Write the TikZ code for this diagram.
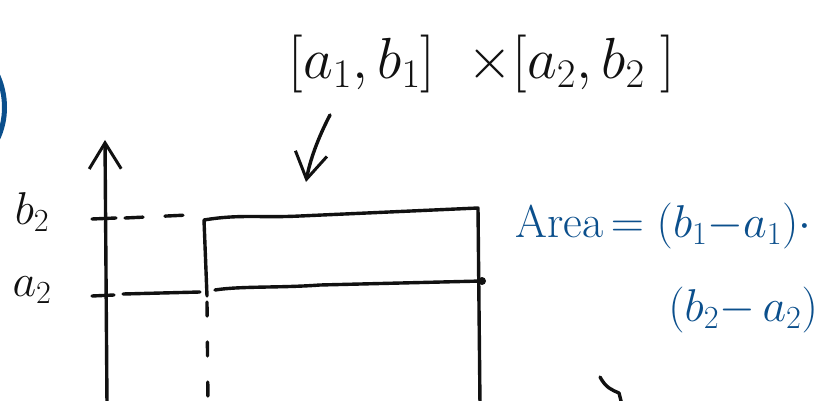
\RequirePackage{fix-cm}
\documentclass[tikz,border=0pt]{standalone}
\usetikzlibrary{positioning,arrows.meta,calc}
\definecolor{ink}{HTML}{111111}
\definecolor{inkblue}{HTML}{0B4F8C}

\begin{document}
\begin{tikzpicture}[
  x=1pt, y=-1pt,
  pen/.style={draw=ink, line width=3.4pt, line cap=round, line join=round},
  bluepen/.style={draw=inkblue, line width=5pt, line cap=round},
  barb/.style={-{Straight Barb[length=26pt, width=32pt, line width=3pt]}},
  lbl/.style={font=\fontsize{46}{50}\selectfont, text=ink, inner sep=0pt},
  note/.style={lbl, text=inkblue},
]
  \useasboundingbox (0,0) rectangle (822,401);

  % ---- axis and its two levels ----------------------------------------------
  \coordinate (axbot) at (107,405);
  \coordinate (axtop) at (105,140);
  \draw[pen, barb] (axbot) -- (axtop);
  \node[lbl] (lb2) at (32,212) {$b_2$};
  \node[lbl] (la2) at (32,290) {$a_2$};
  \draw[pen] (92,219) -- (116,218);
  \draw[pen, dash pattern=on 18pt off 22pt] (125,218) -- (188,215);
  \draw[pen] (92,296) -- (114,295);
  \draw[pen] (123,294) -- (200,292);

  % ---- the strip [a1,b1] x [a2,b2] -------------------------------------------
  \coordinate (tl) at (204,220);
  \coordinate (tr) at (478,208);
  \coordinate (bl) at (215,290);
  \coordinate (br) at (482,281);
  \draw[pen] (207,296) -- (tl) .. controls (240,214) and (260,218) .. (300,216)
    -- (tr) -- (480,405);
  \draw[pen] (bl) .. controls (240,286) and (280,288) .. (320,285) -- (br);
  \fill[ink] (br) circle (4pt);
  \draw[pen, dash pattern=on 14pt off 26pt] (207,302) -- (208,405);

  % ---- set label and pointer ------------------------------------------------
  \node[lbl, font=\fontsize{58}{62}\selectfont] (title) at (482,64)
    {$[a_1,b_1]\;\;{\times}[a_2,b_2\;]$};
  \coordinate (ptrfrom) at (330,115);
  \coordinate (ptr) at (306,182);
  \draw[pen, barb] (ptrfrom) .. controls (318,138) and (310,160) .. (ptr);

  % ---- area formula ---------------------------------------------------------
  \node[note, anchor=west] (area1) at (515,226) {Area\,$=(b_1{-}a_1)\cdot$};
  \node[note, anchor=east] (area2) at (818,310) {$(b_2{-}\,a_2)$};

  % ---- stray strokes at the edges -------------------------------------------
  \draw[bluepen] (-3,74) .. controls (7,95) and (7,120) .. (-3,140);
  \draw[pen] (600,377) .. controls (606,388) and (612,390) .. (619,393) -- (622,405);
\end{tikzpicture}
\end{document}
